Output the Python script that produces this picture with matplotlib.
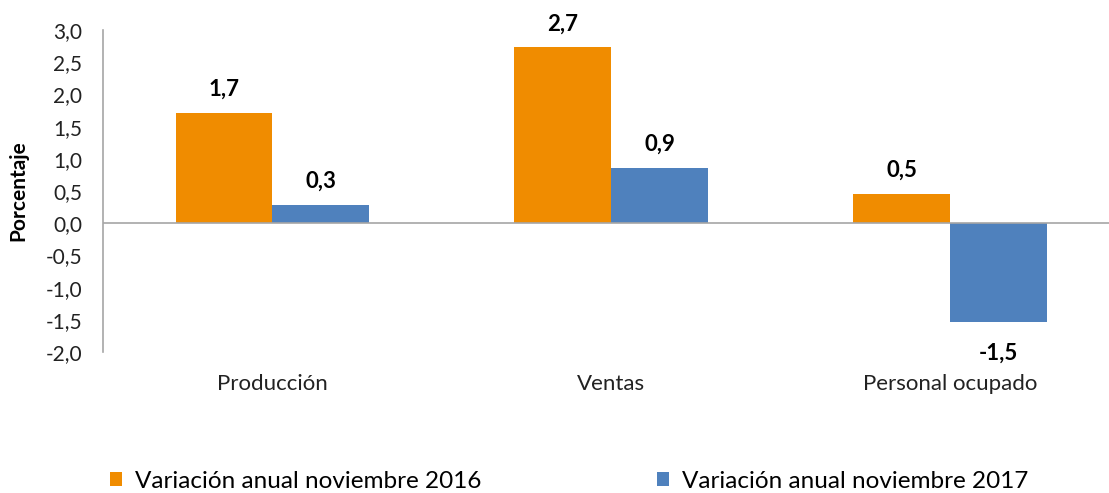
import numpy as np
import matplotlib.pyplot as plt

plt.rcParams['font.family'] = ['Lato', 'DejaVu Sans']

categorias = ['Producción', 'Ventas', 'Personal ocupado']
var_2016 = [1.71, 2.73, 0.46]
var_2017 = [0.29, 0.86, -1.54]
series = ['Variación anual noviembre 2016', 'Variación anual noviembre 2017']
yticks = np.arange(-2.0, 3.01, 0.5)

naranja = '#F08C00'
azul = '#4F81BD'

fig = plt.figure(figsize=(11.09, 4.93), dpi=100)
ax = fig.add_axes([103 / 1109, 1 - 352 / 493, 1 - 103 / 1109, (352 - 30) / 493])

x = np.arange(len(categorias))
w = 0.286
b1 = ax.bar(x - w / 2, var_2016, w, color=naranja, label=series[0])
b2 = ax.bar(x + w / 2, var_2017, w, color=azul, label=series[1])

def fmt(v):
    return f'{v:.1f}'.replace('.', ',')

for bars, vals in [(b1, var_2016), (b2, var_2017)]:
    for r, v in zip(bars, vals):
        cx = r.get_x() + r.get_width() / 2
        dy = 17 if v >= 0 else -22
        ax.annotate(fmt(v), (cx, v), xytext=(0, dy), textcoords='offset points',
                    ha='center', va='center', fontsize=16, fontweight='bold')

ax.set_xlim(-0.5, 2.468)
ax.set_ylim(-2.0, 3.0)
ax.set_yticks(yticks)
ax.set_yticklabels([fmt(t) for t in yticks], fontsize=15, color='#222222')
ax.set_xticks(x)
ax.set_xticklabels(categorias, fontsize=16, color='#222222')
ax.tick_params(axis='both', length=0)
ax.tick_params(axis='x', pad=16)
ax.tick_params(axis='y', pad=15)
ax.axhline(0, color='#A6A6A6', lw=1.2, zorder=3)
for s in ['top', 'right', 'bottom']:
    ax.spines[s].set_visible(False)
ax.spines['left'].set_color('#A6A6A6')
ax.spines['left'].set_linewidth(1.2)
ax.set_ylabel('Porcentaje', fontsize=15, fontweight='bold', labelpad=12)

fig.legend(handles=[b1, b2], loc='center left', bbox_to_anchor=(100 / 1109, 1 - 481 / 493),
           ncol=2, frameon=False, fontsize=17.5, handlelength=0.5, handleheight=0.5,
           handletextpad=0.55, columnspacing=7.2, borderaxespad=0)

fig.savefig('out.png', dpi=100)
